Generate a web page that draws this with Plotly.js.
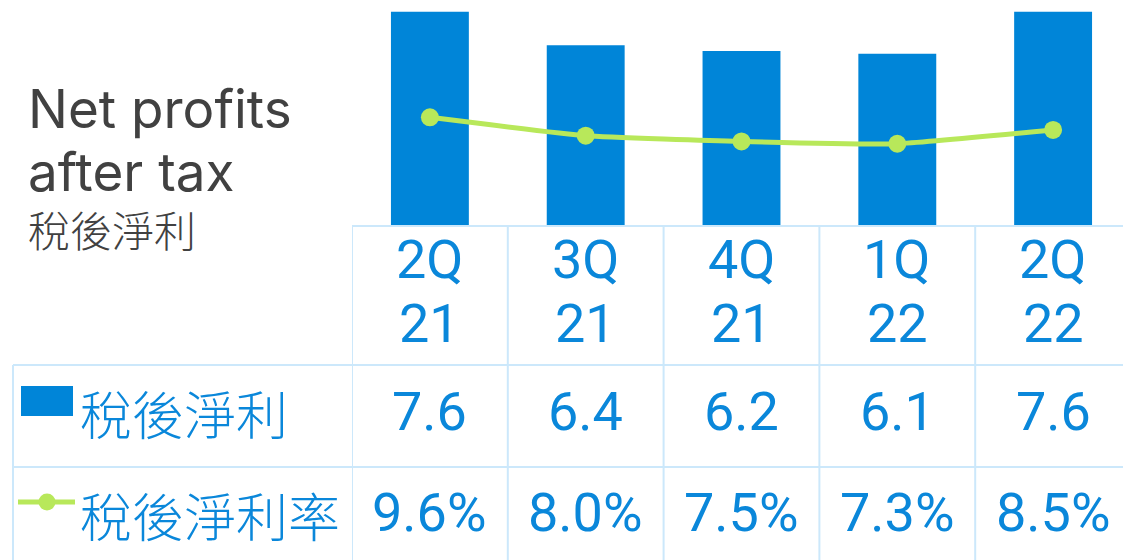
<!DOCTYPE html>
<html>
<head>
<meta charset="utf-8">
<script src="https://cdn.plot.ly/plotly-3.0.1.min.js"></script>
<style>html,body{margin:0;padding:0;background:#fff;}#chart{width:1123px;height:560px;}</style>
</head>
<body>
<div id="chart"></div>
<script>
// ---- data ----
const quarters = ['2Q21', '3Q21', '4Q21', '1Q22', '2Q22'];
const quarterTop = ['2Q', '3Q', '4Q', '1Q', '2Q'];
const quarterBottom = ['21', '21', '21', '22', '22'];
const netProfit = [7.6, 6.4, 6.2, 6.1, 7.6];
const netMargin = [9.6, 8.0, 7.5, 7.3, 8.5];
const seriesNames = ['稅後淨利', '稅後淨利率'];
const titleEn = ['Net profits', 'after tax'];
const titleZh = '稅後淨利';

// ---- style ----
const BLUE = '#0085d8';
const TXT_BLUE = '#0a87da';
const GREEN = '#b8e85a';
const GRID = '#cce8fb';
const GRAY = '#414141';
const W = 1123, H = 560, ML = 352, MB = 335;
const PW = W - ML, PH = H - MB;
const px = p => (p - ML) / PW;          // pixel x -> paper x
const py = p => (PH - p) / PH;          // pixel y -> paper y
const NUM_FONT = 'Roboto, "Noto Sans", sans-serif';
const TITLE_FONT = 'Inter, Roboto, sans-serif';
const CJK_FONT = '"Noto Sans CJK TC", "Noto Sans CJK SC", sans-serif';

const traces = [
  {
    type: 'bar', x: quarters, y: netProfit, width: 0.5,
    marker: {color: BLUE, line: {width: 0}},
    hoverinfo: 'none'
  },
  {
    type: 'scatter', mode: 'lines+markers', x: quarters, y: netMargin, yaxis: 'y2',
    line: {color: GREEN, width: 5, shape: 'spline', smoothing: 0.4},
    marker: {color: GREEN, size: 18},
    hoverinfo: 'none'
  }
];

const shapes = [];
const lineStyle = {color: GRID, width: 2};
// horizontal grid lines
shapes.push({type: 'line', xref: 'paper', yref: 'paper', x0: 0, x1: 1, y0: py(226), y1: py(226), line: lineStyle});
shapes.push({type: 'line', xref: 'paper', yref: 'paper', x0: px(13), x1: 1, y0: py(365), y1: py(365), line: lineStyle});
shapes.push({type: 'line', xref: 'paper', yref: 'paper', x0: px(13), x1: 1, y0: py(467), y1: py(467), line: lineStyle});
// left border of label column
shapes.push({type: 'line', xref: 'paper', yref: 'paper', x0: px(13), x1: px(13), y0: py(365), y1: py(H + 5), line: lineStyle});
// column separators at category boundaries
quarters.forEach((q, i) => {
  shapes.push({type: 'line', xref: 'x', yref: 'paper', x0: i - 0.5, x1: i - 0.5, y0: py(226), y1: py(H + 5), line: lineStyle});
});
// legend symbols
shapes.push({type: 'rect', xref: 'paper', yref: 'paper', x0: px(21), x1: px(73), y0: py(416), y1: py(386), fillcolor: BLUE, line: {width: 0}});
shapes.push({type: 'line', xref: 'paper', yref: 'paper', x0: px(18), x1: px(75), y0: py(502), y1: py(502), line: {color: GREEN, width: 5}});
shapes.push({type: 'circle', xref: 'paper', yref: 'paper', x0: px(38.5), x1: px(55.5), y0: py(510.5), y1: py(493.5), fillcolor: GREEN, line: {width: 0}});

const annotations = [];
const numFont = {family: NUM_FONT, size: 54, color: TXT_BLUE, weight: 400};
quarters.forEach((q, i) => {
  annotations.push({x: q, xref: 'x', y: py(259), yref: 'paper', text: quarterTop[i], showarrow: false, font: numFont, yanchor: 'middle'});
  annotations.push({x: q, xref: 'x', y: py(323), yref: 'paper', text: quarterBottom[i], showarrow: false, font: numFont, yanchor: 'middle'});
  annotations.push({x: q, xref: 'x', y: py(411), yref: 'paper', text: netProfit[i].toFixed(1), showarrow: false, font: numFont, yanchor: 'middle'});
  annotations.push({x: q, xref: 'x', y: py(512), yref: 'paper', text: netMargin[i].toFixed(1) + '%', showarrow: false, font: numFont, yanchor: 'middle'});
});
const cjkBlue = {family: CJK_FONT, size: 52, color: TXT_BLUE, weight: 300};
annotations.push({x: px(78), xref: 'paper', xanchor: 'left', y: py(412), yref: 'paper', yanchor: 'middle', text: seriesNames[0], showarrow: false, font: cjkBlue});
annotations.push({x: px(78), xref: 'paper', xanchor: 'left', y: py(514), yref: 'paper', yanchor: 'middle', text: seriesNames[1], showarrow: false, font: cjkBlue});
const titleFont = {family: TITLE_FONT, size: 53, color: GRAY};
annotations.push({x: px(26), xref: 'paper', xanchor: 'left', y: py(109), yref: 'paper', yanchor: 'middle', text: titleEn[0], showarrow: false, font: titleFont});
annotations.push({x: px(26), xref: 'paper', xanchor: 'left', y: py(172), yref: 'paper', yanchor: 'middle', text: titleEn[1], showarrow: false, font: titleFont});
annotations.push({x: px(26), xref: 'paper', xanchor: 'left', y: py(228), yref: 'paper', yanchor: 'middle', text: titleZh, showarrow: false, font: {family: CJK_FONT, size: 42, color: GRAY, weight: 300}});

const layout = {
  width: W, height: H,
  margin: {l: ML, r: 0, t: 0, b: MB, pad: 0},
  paper_bgcolor: '#fff', plot_bgcolor: '#fff',
  showlegend: false,
  xaxis: {type: 'category', categoryarray: quarters, range: [-0.5, -0.5 + PW / 155.8],
          showticklabels: false, showgrid: false, zeroline: false, showline: false, ticks: ''},
  yaxis: {range: [0, PH / 28.07], visible: false, fixedrange: true},
  yaxis2: {overlaying: 'y', range: [0.235, 19.8], visible: false},
  shapes: shapes,
  annotations: annotations
};

Plotly.newPlot('chart', traces, layout, {displayModeBar: false, staticPlot: true});
</script>
</body>
</html>
